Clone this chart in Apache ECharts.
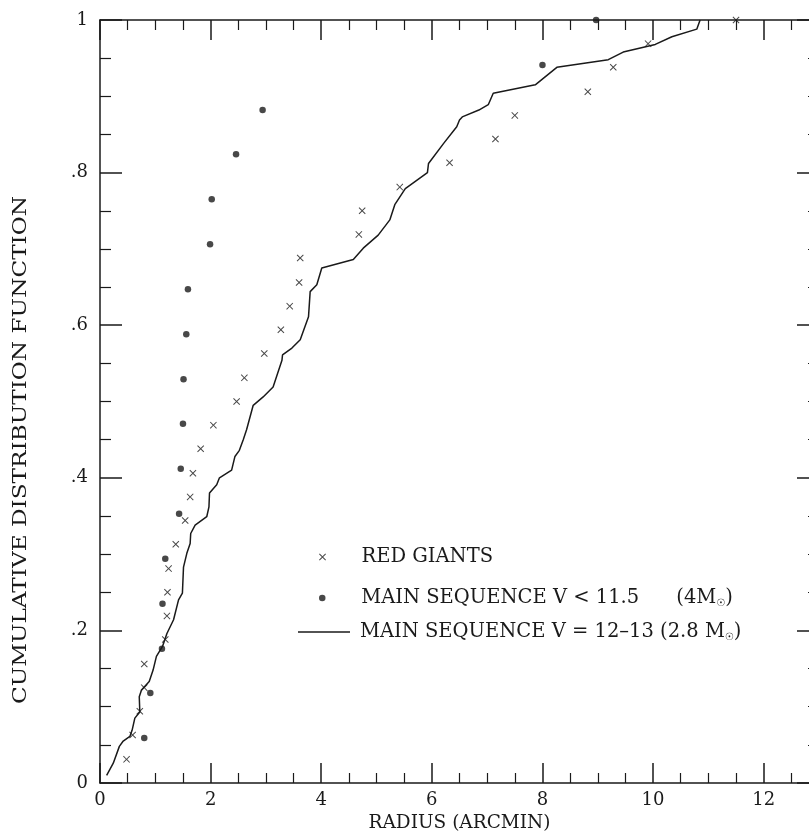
<!DOCTYPE html>
<html><head><meta charset="utf-8">
<script src="https://cdn.jsdelivr.net/npm/echarts@6/dist/echarts.min.js"></script>
<style>html,body{margin:0;padding:0;background:#fff}#c{width:809px;height:833px}</style>
</head><body><div id="c"></div>
<script>
// Red giants (x marks)
const rgX = [0.48,0.59,0.72,0.80,0.80,1.18,1.21,1.22,1.24,1.37,1.54,1.63,1.68,1.82,2.05,2.47,2.61,2.97,3.27,3.43,3.60,3.62,4.68,4.74,5.42,6.32,7.15,7.50,8.82,9.28,9.91,11.5];
const rgY = [0.031,0.063,0.094,0.125,0.156,0.188,0.219,0.250,0.281,0.313,0.344,0.375,0.406,0.438,0.469,0.500,0.531,0.563,0.594,0.625,0.656,0.688,0.719,0.750,0.781,0.813,0.844,0.875,0.906,0.938,0.969,1.000];
// Main sequence V < 11.5 (dots)
const msX = [0.80,0.91,1.12,1.13,1.18,1.43,1.46,1.50,1.51,1.56,1.59,1.99,2.02,2.46,2.94,8.00,8.97];
const msY = [0.059,0.118,0.176,0.235,0.294,0.353,0.412,0.471,0.529,0.588,0.647,0.706,0.765,0.824,0.882,0.941,1.000];
// Main sequence V = 12-13 (line)
const lnX = [0.12,0.24,0.35,0.42,0.54,0.58,0.63,0.72,0.71,0.75,0.89,0.96,1.02,1.13,1.21,1.33,1.42,1.49,1.51,1.57,1.63,1.64,1.72,1.93,1.97,1.98,2.11,2.16,2.38,2.44,2.52,2.59,2.65,2.77,2.95,3.13,3.29,3.30,3.47,3.62,3.77,3.80,3.92,4.01,4.58,4.76,5.03,5.24,5.33,5.52,5.92,5.94,6.21,6.45,6.50,6.55,6.85,7.02,7.11,7.14,7.87,8.26,9.19,9.46,10.04,10.34,10.79,10.85];
const lnY = [0.010,0.026,0.048,0.055,0.061,0.069,0.085,0.093,0.113,0.122,0.133,0.148,0.166,0.179,0.196,0.214,0.240,0.249,0.283,0.301,0.314,0.327,0.338,0.349,0.362,0.380,0.391,0.400,0.410,0.428,0.436,0.450,0.463,0.495,0.506,0.519,0.554,0.561,0.570,0.581,0.611,0.644,0.653,0.675,0.686,0.701,0.718,0.738,0.758,0.779,0.800,0.812,0.838,0.860,0.869,0.873,0.882,0.889,0.904,0.906,0.915,0.938,0.948,0.958,0.968,0.978,0.988,1.000];

const xTickLabels = ['0','2','4','6','8','10','12'];
const yTickLabels = ['0','.2','.4','.6','.8','1'];
const names = {
  rg: 'RED GIANTS',
  ms: 'MAIN SEQUENCE V < 11.5      (4M{s|\u2609})',
  ln: 'MAIN SEQUENCE V = 12\u201313 (2.8 M{s|\u2609})'
};
const xTitle = 'RADIUS (ARCMIN)';
const yTitle = 'CUMULATIVE DISTRIBUTION FUNCTION';

const zip = (a, b) => a.map((v, i) => [v, b[i]]);
const INK = '#1a1a1a';
const FONT = 'DejaVu Serif';
const crossPath = 'path://M0,1 L1,0 L5,4 L9,0 L10,1 L6,5 L10,9 L9,10 L5,6 L1,10 L0,9 L4,5 Z';

const axisLineStyle = { onZero: false, lineStyle: { color: INK, width: 1.5 } };
const tickStyle = { inside: true, length: 20, lineStyle: { color: INK, width: 1.5 } };
const minorStyle = { show: true, splitNumber: 4, length: 10, lineStyle: { color: INK, width: 1.2 } };

const xBase = { type: 'value', min: 0, max: 13, interval: 2, splitLine: { show: false },
  axisLine: axisLineStyle, axisTick: tickStyle, minorTick: minorStyle };
const yBase = { type: 'value', min: 0, max: 1, interval: 0.2, splitLine: { show: false },
  axisLine: axisLineStyle, axisTick: Object.assign({}, tickStyle, { length: 22 }),
  minorTick: Object.assign({}, minorStyle, { length: 11 }) };

const richS = { s: { fontFamily: 'DejaVu Sans', fontSize: 10, color: INK, verticalAlign: 'bottom', padding: [7, 0, 0, 0] } };
const mkText = pad => ({ fontFamily: FONT, fontSize: 19.5, color: INK, padding: [0, 0, 0, pad], rich: richS });

const chart = echarts.init(document.getElementById('c'), null, { renderer: 'canvas' });
chart.setOption({
  backgroundColor: '#ffffff',
  animation: false,
  grid: { left: 100, right: -10, top: 20, bottom: 50, containLabel: false, outerBoundsMode: 'none' },
  xAxis: [
    Object.assign({}, xBase, { position: 'bottom',
      axisLabel: { fontFamily: FONT, fontSize: 18, color: INK, margin: 8,
        formatter: v => { const i = Math.round(v / 2); return (Math.abs(v - i * 2) < 1e-6 && i < xTickLabels.length) ? xTickLabels[i] : ''; } },
      name: xTitle, nameLocation: 'middle', nameGap: 29,
      nameTextStyle: { fontFamily: FONT, fontSize: 18.5, color: INK } }),
    Object.assign({}, xBase, { position: 'top', axisLabel: { show: false } })
  ],
  yAxis: [
    Object.assign({}, yBase, { position: 'left',
      axisLabel: { fontFamily: FONT, fontSize: 18, color: INK, margin: 12,
        formatter: v => yTickLabels[Math.round(v * 5)] } }),
    Object.assign({}, yBase, { position: 'right', axisLabel: { show: false } })
  ],
  legend: [
    { data: ['rg'], orient: 'vertical', left: 314, top: 542, itemWidth: 50, itemHeight: 7,
      formatter: n => names[n], textStyle: mkText(9) },
    { data: ['ms'], orient: 'vertical', left: 314, top: 583, itemWidth: 50, itemHeight: 6.5,
      formatter: n => names[n], textStyle: mkText(9) },
    { data: [{ name: 'ln', icon: 'rect' }], orient: 'vertical', left: 293, top: 617, itemWidth: 52, itemHeight: 1.5,
      formatter: n => names[n], textStyle: mkText(5) }
  ],
  graphic: [
    { type: 'text', x: 21, y: 450, rotation: Math.PI / 2, scaleX: 1.22,
      style: { text: yTitle, fontFamily: FONT, fontSize: 19, fill: INK, align: 'center', verticalAlign: 'middle' } }
  ],
  series: [
    { name: 'rg', type: 'scatter', symbol: crossPath, symbolKeepAspect: true, symbolSize: 7,
      itemStyle: { color: INK }, data: zip(rgX, rgY), clip: false },
    { name: 'ms', type: 'scatter', symbol: 'circle', symbolSize: 6.5,
      itemStyle: { color: INK }, data: zip(msX, msY), clip: false },
    { name: 'ln', type: 'line', symbol: 'none', showSymbol: false, smooth: false,
      lineStyle: { color: INK, width: 1.5 }, itemStyle: { color: INK }, data: zip(lnX, lnY) }
  ]
});
</script>
</body></html>
